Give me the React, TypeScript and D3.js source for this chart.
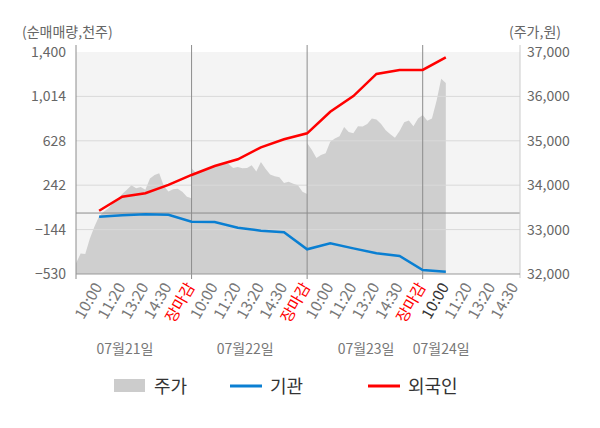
import React, { useRef, useEffect } from "react";
import * as d3 from "d3";

// x axis: 5 label slots per trading day
const slotLabels = [
  "10:00", "11:20", "13:20", "14:30", "장마감",
  "10:00", "11:20", "13:20", "14:30", "장마감",
  "10:00", "11:20", "13:20", "14:30", "장마감",
  "10:00", "11:20", "13:20", "14:30",
];
const dayLabels = ["07월21일", "07월22일", "07월23일", "07월24일"];
const dayLabelSlots = [2.12, 7.32, 12.55, 15.8];

const volumeTicks = [-530, -144, 242, 628, 1014, 1400];
const priceTicks = [32000, 33000, 34000, 35000, 36000, 37000];

// intraday price, 25 samples per day + close
const priceDay1 = [
  32240, 32460, 32450, 32800, 33070, 33300, 33400, 33480, 33600, 33680, 33800, 33900, 34000,
  33930, 33960, 33900, 34150, 34230, 34270, 33980, 33860, 33910, 33920, 33850, 33740, 33705,
];
const priceDay2 = [
  34380, 34270, 34300, 34350, 34400, 34455, 34455, 34500, 34480, 34390, 34410, 34380, 34390,
  34450, 34310, 34520, 34370, 34240, 34200, 34180, 34050, 34080, 34030, 34000, 33850, 33800,
];
const priceDay3 = [
  34950, 34800, 34610, 34680, 34720, 34980, 35050, 35100, 35310, 35200, 35170, 35330, 35320,
  35380, 35500, 35480, 35380, 35240, 35150, 35070, 35220, 35420, 35460, 35330, 35500, 35580,
];
const priceDay4 = [35580, 35450, 35500, 35900, 36400, 36300];

// cumulative net buying (thousand shares), one value per slot from day 1 10:00
const foreignNet = [20, 142, 172, 245, 331, 409, 467, 571, 641, 693, 880, 1017, 1209, 1244, 1244, 1354];
const institutionNet = [-32, -20, -11, -15, -75, -78, -127, -153, -167, -315, -263, -307, -350, -373, -495, -510];

const W = 600;
const H = 428;
const FONT = "'Noto Sans CJK KR', 'Noto Sans', sans-serif";

const App = () => {
  const chartRef = useRef(null);

  useEffect(() => {
    const margin = { top: 52, right: 80, bottom: 154, left: 76 };
    const width = W - margin.left - margin.right;
    const height = H - margin.top - margin.bottom;

    d3.select(chartRef.current).selectAll("svg").remove();

    const root = d3
      .select(chartRef.current)
      .append("svg")
      .attr("width", W)
      .attr("height", H)
      .style("position", "absolute")
      .style("left", 0)
      .style("top", 0)
      .style("font-family", FONT);

    const svg = root.append("g").attr("transform", `translate(${margin.left}, ${margin.top})`);

    const x = d3.scaleLinear().domain([0, 19.21]).range([0, width]);
    const yVol = d3.scaleLinear().domain([-530, 1400]).range([height, 0]);
    const yPrice = d3.scaleLinear().domain([32000, 37000]).range([height, 0]);

    svg.append("rect").attr("width", width).attr("height", height).attr("fill", "#f4f4f4");

    // price area
    const pricePoints = [priceDay1, priceDay2, priceDay3, priceDay4].flatMap((vals, d) =>
      vals.map((v, j) => ({ slot: d * 5 + j / 5, v })),
    );
    svg
      .append("path")
      .datum(pricePoints)
      .attr("fill", "#cfcfcf")
      .attr(
        "d",
        d3
          .area<any>()
          .x((d) => x(d.slot))
          .y0(height)
          .y1((d) => yPrice(d.v)),
      );

    // grid lines
    svg
      .selectAll(".grid")
      .data(volumeTicks.slice(1, -1))
      .enter()
      .append("line")
      .attr("x1", 0)
      .attr("x2", width)
      .attr("y1", (d) => yVol(d))
      .attr("y2", (d) => yVol(d))
      .attr("stroke", "#d9d9d9")
      .attr("stroke-width", 1);

    // zero line
    svg
      .append("line")
      .attr("x1", 0)
      .attr("x2", width)
      .attr("y1", yVol(0))
      .attr("y2", yVol(0))
      .attr("stroke", "#8c8c8c")
      .attr("stroke-width", 1);

    // day dividers + left axis
    svg
      .selectAll(".divider")
      .data([0, 5, 10, 15])
      .enter()
      .append("line")
      .attr("x1", (d) => x(d))
      .attr("x2", (d) => x(d))
      .attr("y1", -7)
      .attr("y2", height + 5)
      .attr("stroke", "#8c8c8c")
      .attr("stroke-width", 1);

    // right axis
    svg
      .append("line")
      .attr("x1", width)
      .attr("x2", width)
      .attr("y1", -7)
      .attr("y2", height + 4)
      .attr("stroke", "#cccccc");

    // bottom axis
    svg
      .append("line")
      .attr("x1", 0)
      .attr("x2", width)
      .attr("y1", height)
      .attr("y2", height)
      .attr("stroke", "#999999");

    const lineGen = d3
      .line<number>()
      .x((_, i) => x(i + 1))
      .y((d) => yVol(d));

    svg
      .append("path")
      .datum(institutionNet)
      .attr("fill", "none")
      .attr("stroke", "#0a7fd2")
      .attr("stroke-width", 2.5)
      .attr("d", lineGen);

    svg
      .append("path")
      .datum(foreignNet)
      .attr("fill", "none")
      .attr("stroke", "#ff0000")
      .attr("stroke-width", 2.5)
      .attr("d", lineGen);

    // left tick labels
    svg
      .selectAll(".ltick")
      .data(volumeTicks)
      .enter()
      .append("text")
      .attr("x", -10)
      .attr("y", (d) => yVol(d))
      .attr("dy", "0.35em")
      .attr("text-anchor", "end")
      .attr("font-size", 14)
      .attr("fill", "#666")
      .text((d) => d3.format(",")(d));

    // right tick labels
    svg
      .selectAll(".rtick")
      .data(priceTicks)
      .enter()
      .append("text")
      .attr("x", width + 7)
      .attr("y", (d) => yPrice(d))
      .attr("dy", "0.35em")
      .attr("text-anchor", "start")
      .attr("font-size", 14)
      .attr("fill", "#666")
      .text((d) => d3.format(",")(d));

    // x slot labels
    svg
      .selectAll(".xlabel")
      .data(slotLabels)
      .enter()
      .append("text")
      .attr("transform", (_, i) => `translate(${x(i + 1) - 1}, ${height + 10}) rotate(-60)`)
      .attr("dy", "0.35em")
      .attr("text-anchor", "end")
      .attr("font-size", 15.5)
      .attr("fill", (d, i) => (d === "장마감" ? "#ff0000" : i === 15 ? "#333" : "#777"))
      .text((d) => d);

    // date labels
    svg
      .selectAll(".day")
      .data(dayLabels)
      .enter()
      .append("text")
      .attr("x", (_, i) => x(dayLabelSlots[i]))
      .attr("y", height + 80)
      .attr("text-anchor", "middle")
      .attr("font-size", 14)
      .attr("fill", "#777")
      .text((d) => d);

    // axis titles
    root
      .append("text")
      .attr("x", 22)
      .attr("y", 37)
      .attr("font-size", 14)
      .attr("fill", "#666")
      .text("(순매매량,천주)");
    root
      .append("text")
      .attr("x", 561)
      .attr("y", 37)
      .attr("text-anchor", "end")
      .attr("font-size", 14)
      .attr("fill", "#666")
      .text("(주가,원)");

    // legend
    const legend = root.append("g").attr("transform", "translate(0, 386)");
    const items = [
      { label: "주가", color: "#cccccc", type: "rect", x0: 114 },
      { label: "기관", color: "#0a7fd2", type: "line", x0: 230 },
      { label: "외국인", color: "#ff0000", type: "line", x0: 368 },
    ];
    items.forEach((it) => {
      if (it.type === "rect") {
        legend.append("rect").attr("x", it.x0).attr("y", -7).attr("width", 31).attr("height", 13).attr("fill", it.color);
      } else {
        legend
          .append("line")
          .attr("x1", it.x0)
          .attr("x2", it.x0 + 32)
          .attr("stroke", it.color)
          .attr("stroke-width", 3);
      }
      legend
        .append("text")
        .attr("x", it.x0 + 40)
        .attr("dy", "0.38em")
        .attr("font-size", 18)
        .attr("fill", "#333")
        .text(it.label);
    });
  }, []);

  return <div ref={chartRef}></div>;
};

export default App;
